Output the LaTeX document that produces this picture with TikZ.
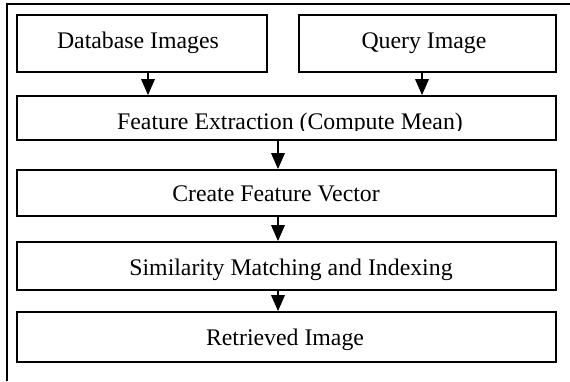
\documentclass[tikz,border=0pt]{standalone}
\usepackage{fontspec}
\setmainfont{Liberation Serif}
\usetikzlibrary{arrows.meta}
\begin{document}
\begin{tikzpicture}[x=1pt,y=-1pt,
  box/.style={draw,line width=1.8pt,rectangle,inner sep=0pt},
  lbl/.style={anchor=base,inner sep=0pt,font=\fontsize{23.8}{28}\selectfont},
  arr/.style={line width=1.8pt,-{Triangle[length=16pt,width=13.5pt]}}]
\useasboundingbox (0,0) rectangle (570,381);
\draw[line width=2pt] (7,381) -- (7,3.7) -- (570,3.7);
% boxes
\node[box,minimum width=250pt,minimum height=57pt] (db) at (142,43.5) {};
\node[box,minimum width=257pt,minimum height=57pt] (q) at (427.5,43.5) {};
\node[box,minimum width=539pt,minimum height=44pt] (fe) at (286.5,118) {};
\node[box,minimum width=539pt,minimum height=46pt] (cfv) at (286.5,193) {};
\node[box,minimum width=539pt,minimum height=48pt] (smi) at (286.5,266) {};
\node[box,minimum width=539pt,minimum height=50pt] (ri) at (286.5,337) {};
% labels
\node[lbl] (tdb) at (138,48) {Database Images};
\node[lbl] (tq) at (424,48) {Query Image};
\begin{scope}
\clip (17,97) rectangle (556,130);
\node[lbl] (tfe) at (290,129.3) {Feature Extraction (Compute Mean)};
\end{scope}
\node[lbl] (tcfv) at (276,201.7) {Create Feature Vector};
\node[lbl] (tsmi) at (291,275) {Similarity Matching and Indexing};
\node[lbl] (tri) at (285,345) {Retrieved Image};
% arrows
\coordinate (x1) at (148,0);
\coordinate (x2) at (422,0);
\coordinate (x3) at (278,0);
\draw[arr] (x1 |- db.south) -- (x1 |- fe.north);
\draw[arr] (x2 |- q.south) -- (x2 |- fe.north);
\draw[arr] (x3 |- fe.south) -- (x3 |- cfv.north);
\draw[arr] (x3 |- cfv.south) -- (x3 |- smi.north);
\draw[arr] (x3 |- smi.south) -- (x3 |- ri.north);
\end{tikzpicture}
\end{document}
